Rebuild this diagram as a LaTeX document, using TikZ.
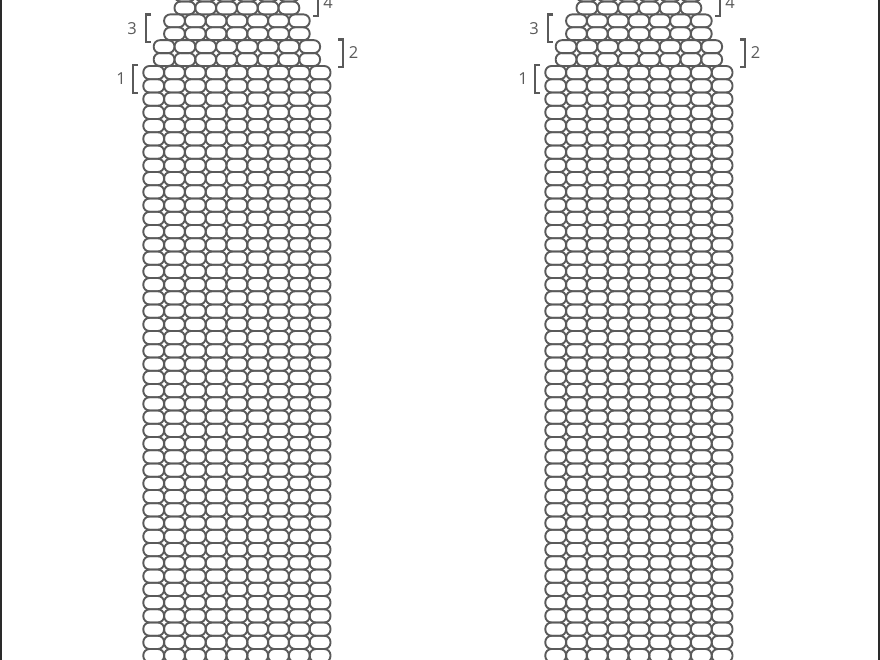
\documentclass[tikz,border=0pt]{standalone}
\usepackage{fontspec}
\setmainfont{Open Sans}
\definecolor{beadc}{HTML}{5A5A5A}
\definecolor{framec}{HTML}{2A2A2A}
\begin{document}
\begin{tikzpicture}[x=1pt,y=-1pt,
  bead/.style={draw=beadc, line width=1.9pt, rounded corners=6.2pt},
  brk/.style={draw=beadc, line width=2.1pt},
  lbl/.style={text=beadc, font=\fontsize{16.5}{16.5}\selectfont, inner sep=0pt},
  frame/.style={draw=framec, line width=2pt}]
\useasboundingbox (0,0) rectangle (880,660);
\begin{scope}
\clip (0,0) rectangle (880,660);
\foreach \ox in {0,402}{
  % section 1 (9 beads wide)
  \foreach \r in {0,...,44}
    \foreach \c in {0,...,8}
      \draw[bead] ({\ox+143.3+20.8*\c},{66+13.25*\r}) rectangle ++(20.8,13.25);
  % section 2 (8 beads)
  \foreach \r in {1,2}
    \foreach \c in {0,...,7}
      \draw[bead] ({\ox+153.7+20.8*\c},{66-12.9*\r}) rectangle ++(20.8,12.9);
  % section 3 (7 beads)
  \foreach \r in {3,4}
    \foreach \c in {0,...,6}
      \draw[bead] ({\ox+164.1+20.8*\c},{66-12.9*\r}) rectangle ++(20.8,12.9);
  % section 4 (6 beads)
  \foreach \r in {5,6}
    \foreach \c in {0,...,5}
      \draw[bead] ({\ox+174.5+20.8*\c},{66-12.9*\r}) rectangle ++(20.8,12.9);
  % brackets
  \draw[brk] ({\ox+138},65) -- ({\ox+133},65) -- ({\ox+133},93) -- ({\ox+138},93);
  \draw[brk] ({\ox+338},39.5) -- ({\ox+343},39.5) -- ({\ox+343},67) -- ({\ox+338},67);
  \draw[brk] ({\ox+151},14.5) -- ({\ox+146},14.5) -- ({\ox+146},42) -- ({\ox+151},42);
  \draw[brk] ({\ox+313},-12) -- ({\ox+318},-12) -- ({\ox+318},16) -- ({\ox+313},16);
  % labels
  \node[lbl] (one-\ox) at ({\ox+121},78.5) {1};
  \node[lbl] (two-\ox) at ({\ox+353.5},53) {2};
  \node[lbl] (three-\ox) at ({\ox+132},28.5) {3};
  \node[lbl] (four-\ox) at ({\ox+328},3) {4};
}
\end{scope}
\draw[frame] (1,0) -- (1,660);
\draw[frame] (879,0) -- (879,660);
\end{tikzpicture}
\end{document}
